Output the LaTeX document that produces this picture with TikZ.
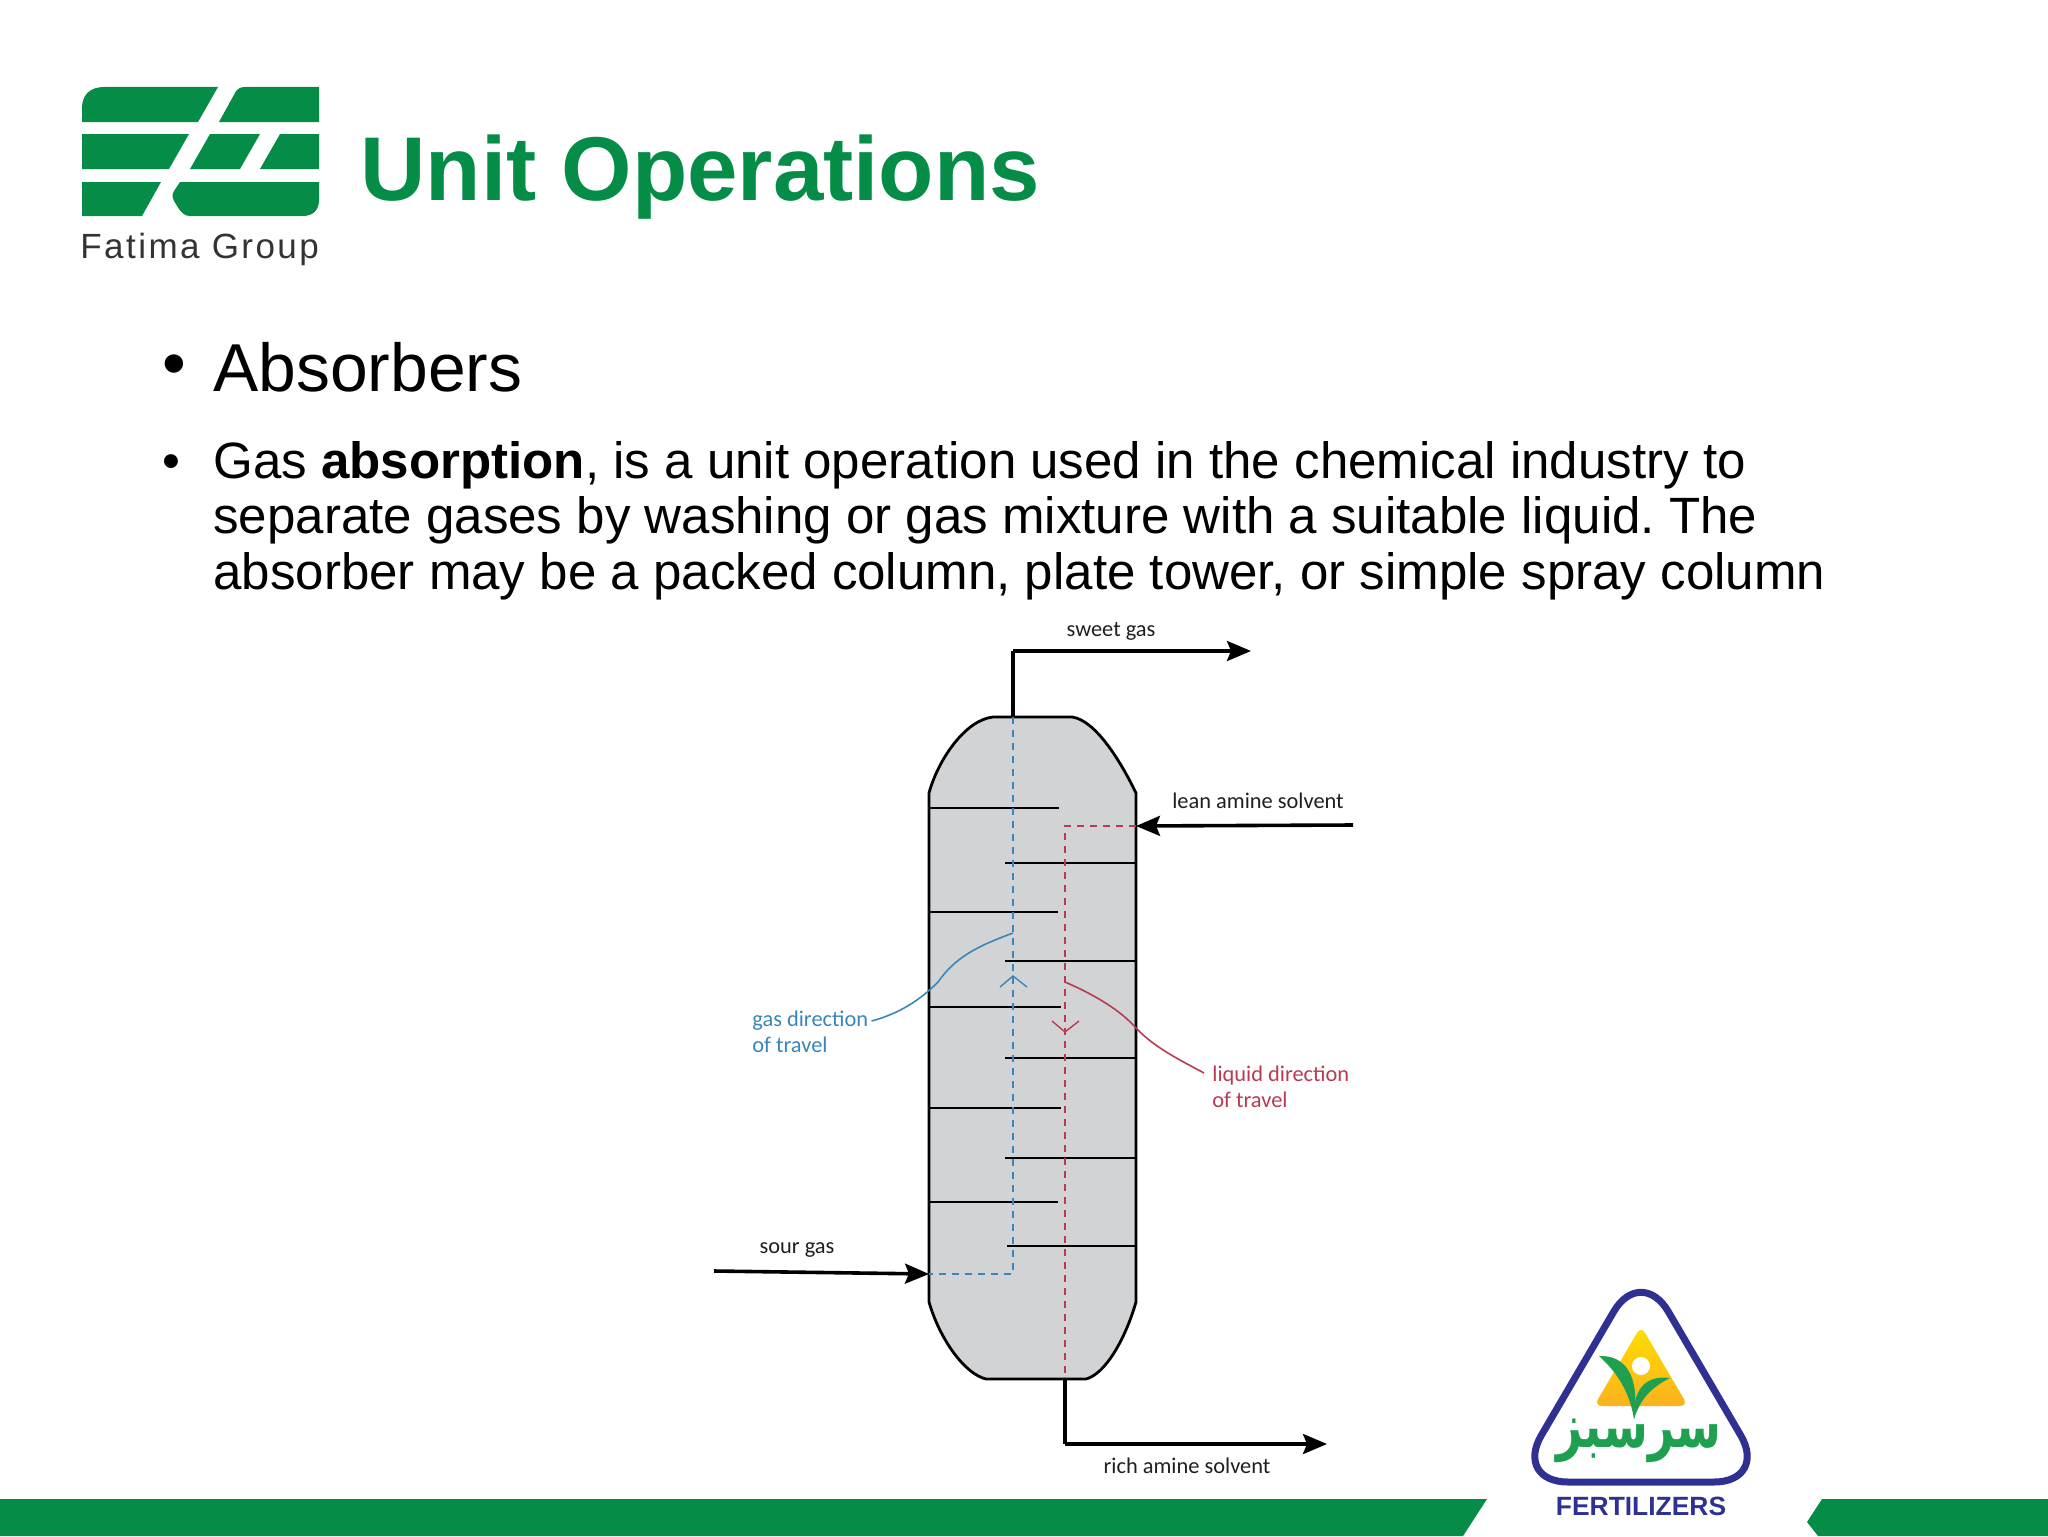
\documentclass[tikz,border=0pt]{standalone}
\usepackage{fontspec}
\usepackage{graphicx}
\setmainfont{Liberation Sans}
\newfontfamily\labelfont{Carlito}
\newfontfamily\arabicfont[Script=Arabic]{DejaVu Sans}
\TeXXeTstate=1
\usepackage{xcolor}
\usetikzlibrary{positioning,arrows.meta}
\definecolor{fatimagreen}{HTML}{058C47}
\definecolor{towergray}{HTML}{D1D3D4}
\definecolor{gasblue}{HTML}{3A86B8}
\definecolor{liquidred}{HTML}{B83B52}
\definecolor{sarsabzblue}{HTML}{2E3192}
\definecolor{sarsabzgreen}{HTML}{1FA050}
\definecolor{sunyellow}{HTML}{FFDD00}
\definecolor{sunorange}{HTML}{FBB21F}

\begin{document}
\frenchspacing
\begin{tikzpicture}[
  x=0.5pt, y=-0.5pt,
  bodytext/.style={anchor=base west, inner sep=0pt, align=left},
  stream/.style={line width=1.8pt, -{Stealth[length=12pt,width=10pt,inset=2pt]}},
  pipe/.style={line width=1.8pt},
  traythin/.style={line width=0.9pt},
  traythick/.style={line width=1.4pt},
  gasflow/.style={gasblue, line width=0.9pt, dash pattern=on 3.5pt off 3pt},
  liquidflow/.style={liquidred, line width=0.7pt, dash pattern=on 3.5pt off 3pt},
  tag/.style={inner sep=0pt, font=\labelfont\fontsize{11.2}{12.8}\selectfont, text=black!88},
]
\useasboundingbox (0,0) rectangle (2048,1536);

% footer band
\fill[fatimagreen] (0,1499) -- (1487,1499) -- (1463,1536) -- (0,1536) -- cycle;
\fill[fatimagreen] (1822,1499) -- (2048,1499) -- (2048,1536) -- (1818,1536) -- (1807,1522) -- cycle;

% fatima logo
\fill[fatimagreen] (82,122) -- (82,108) .. controls (82,95) and (90,87) .. (104,87) -- (218,87) -- (198,122) -- cycle;
\fill[fatimagreen] (219,122) -- (235,93) .. controls (237,89) and (240,87) .. (245,87) -- (319,87) -- (319,122) -- cycle;
\fill[fatimagreen] (82,134) -- (189,134) -- (169,169) -- (82,169) -- cycle;
\fill[fatimagreen] (210,134) -- (260,134) -- (240,169) -- (190,169) -- cycle;
\fill[fatimagreen] (280,134) -- (319,134) -- (319,169) -- (260,169) -- cycle;
\fill[fatimagreen] (82,182) -- (161,182) -- (142,216) -- (82,216) -- cycle;
\fill[fatimagreen] (180,182) -- (319,182) -- (319,200) .. controls (319,210) and (313,216) .. (303,216) -- (190,216) .. controls (185,216) and (182,213) .. (179,209) -- (174,201) .. controls (172,197) and (172,194) .. (174,191) -- cycle;
\node[bodytext, text=black!80] (fatima) at (80,258)
  {\addfontfeature{LetterSpace=7}\fontsize{17.5}{20}\selectfont Fatima Group};

% headings
\node[bodytext, text=fatimagreen] (title) at (360,200)
  {\fontsize{45.3}{54}\selectfont\bfseries Unit Operations};
\node[bodytext] (bulletone) at (162,386) {\fontsize{33.9}{40}\selectfont •};
\node[bodytext] (absorbers) at (213,391) {\fontsize{33.9}{40}\selectfont Absorbers};
\node[bodytext] (bullettwo) at (162,478) {\fontsize{25.53}{27.5}\selectfont •};
\node[bodytext] (bodyone) at (213,478)
  {\fontsize{25.53}{27.5}\selectfont Gas \textbf{absorption}, is a unit operation used in the chemical industry to};
\node[bodytext] (bodytwo) at (213,533)
  {\fontsize{25.53}{27.5}\selectfont separate gases by washing or gas mixture with a suitable liquid. The};
\node[bodytext] (bodythree) at (213,589)
  {\fontsize{25.53}{27.5}\selectfont absorber may be a packed column, plate tower, or simple spray column};

% column shell
\draw[fill=towergray, line width=1.4pt] (929,793) .. controls (938,760) and (965,720) .. (993,717)
  -- (1072,717) .. controls (1095,720) and (1120,760) .. (1136,793)
  -- (1136,1302) .. controls (1125,1340) and (1105,1374) .. (1086,1379)
  -- (986,1379) .. controls (965,1374) and (940,1340) .. (929,1302) -- cycle;

\coordinate (gastop) at (1013,717);
\coordinate (gasbend) at (1013,1274);
\coordinate (gasin) at (929,1274);
\coordinate (liquidtop) at (1065,826);
\coordinate (liquidin) at (1136,826);
\coordinate (liquidout) at (1065,1379);

% trays
\draw[traythin] (929,808) -- (1059,808);
\draw[traythin] (929,912) -- (1058,912);
\draw[traythick] (929,1007) -- (1061,1007);
\draw[traythin] (929,1108) -- (1061,1108);
\draw[traythick] (929,1202) -- (1058,1202);
\draw[traythick] (1005,863) -- (1136,863);
\draw[traythick] (1005,961) -- (1136,961);
\draw[traythick] (1005,1058) -- (1136,1058);
\draw[traythin] (1005,1158) -- (1136,1158);
\draw[traythick] (1007,1246) -- (1136,1246);

% flow paths
\draw[gasflow] (gastop) -- (gasbend) -- (gasin);
\draw[liquidflow] (liquidin) -- (liquidtop) -- (liquidout);
\draw[gasblue, line width=0.7pt] (1000,987) -- (1013,976) -- (1027,987);
\draw[liquidred, line width=0.7pt] (1052,1021) -- (1065,1032) -- (1079,1021);

% streams
\coordinate (sweetbend) at (1013,651);
\coordinate (sweetend) at (1251,651);
\coordinate (leanstart) at (1353,825);
\coordinate (sourstart) at (714,1271);
\coordinate (richbend) at (1065,1444);
\coordinate (richend) at (1327,1444);
\draw[pipe] (gastop) -- (sweetbend);
\draw[stream] (sweetbend) -- (sweetend);
\draw[stream] (leanstart) -- (liquidin);
\draw[stream] (sourstart) -- (gasin);
\draw[pipe] (liquidout) -- (richbend);
\draw[stream] (richbend) -- (richend);

\node[tag] (sweet) at (1111,631) {sweet gas};
\node[tag] (lean) at (1258,801) {lean amine solvent};
\node[tag] (sour) at (797,1250) {sour gas};
\node[tag] (rich) at (1187,1466) {rich amine solvent};
\node[tag, text=gasblue, align=left, anchor=north west] (gaslabel) at (752,1011) {gas direction\\of travel};
\node[tag, text=liquidred, align=left, anchor=north west] (liquidlabel) at (1212,1066) {liquid direction\\of travel};

\coordinate (gaslead) at (1013,933);
\coordinate (liquidlead) at (1065,982);
\draw[gasblue, line width=0.8pt] (gaslabel.east |- 0,1021) ++(3,0) .. controls (905,1012) and (925,995) .. (938,982)
  .. controls (955,958) and (975,947) .. (gaslead);
\draw[liquidred, line width=0.8pt] (liquidlead) .. controls (1095,995) and (1120,1010) .. (1136,1028)
  .. controls (1155,1048) and (1180,1060) .. (1204,1073);

% sarsabz logo
\shade[top color=sunyellow, bottom color=sunorange, rounded corners=4pt]
  (1641,1326) -- (1688,1406) -- (1594,1406) -- cycle;
\fill[white] (1641,1366) circle[radius=9];
\fill[sarsabzgreen] (1599,1356) .. controls (1625,1355) and (1640,1375) .. (1634,1419)
  .. controls (1630,1395) and (1620,1375) .. (1599,1356) -- cycle;
\fill[sarsabzgreen] (1670,1378) .. controls (1650,1375) and (1632,1385) .. (1634,1419)
  .. controls (1640,1400) and (1650,1388) .. (1670,1378) -- cycle;
\draw[sarsabzblue, line width=3.5pt, rounded corners=27pt] (1641,1265) -- (1768,1482) -- (1514,1482) -- cycle;
\node[inner sep=0pt, text=sarsabzgreen] (sarsabz) at (1639,1441)
  {\scalebox{0.95}[1.3]{\arabicfont\bfseries\fontsize{24}{28}\selectfont\beginR سرسبز\endR}};
\node[inner sep=0pt, text=sarsabzblue] (fertilizers) at (1641,1506)
  {\fontsize{13.2}{15}\selectfont\bfseries FERTILIZERS};
\end{tikzpicture}
\end{document}
